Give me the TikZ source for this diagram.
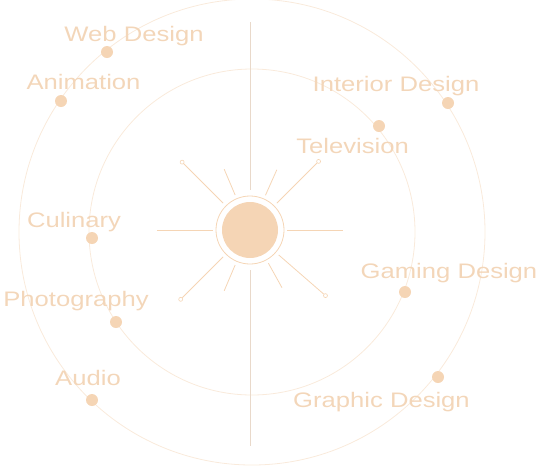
\documentclass[tikz,border=0pt]{standalone}
\usepackage{fontspec}
\setmainfont{Liberation Sans}[FakeStretch=1.22]
\definecolor{peach}{HTML}{F5D5B5}
\definecolor{ringc}{HTML}{F9EADB}
\definecolor{vline}{HTML}{E9D9CA}
\definecolor{txt}{HTML}{F3D6B9}
\begin{document}
\begin{tikzpicture}[x=1pt,y=-1pt,
  dot/.style={circle,fill=peach,inner sep=0pt,minimum size=12pt},
  lbl/.style={text=txt,font=\fontsize{21}{21}\selectfont,anchor=base,inner sep=0pt},
  ray/.style={draw=peach,line width=0.8pt},
  tip/.style={circle,draw=peach,fill=white,inner sep=0pt,minimum size=4pt,line width=0.6pt}]
\useasboundingbox (0,0) rectangle (538,467);
\coordinate (c) at (252,232);
\draw[ringc,line width=0.8pt] (c) circle[radius=233pt];
\draw[ringc,line width=0.8pt] (c) circle[radius=163pt];
\coordinate (s) at (250,230);
\coordinate (vt) at (250,22);
\coordinate (vb) at (250,446);
\path (s) ++(90:40pt) coordinate (v1) (s) ++(-90:40pt) coordinate (v2);
\draw[vline,line width=0.9pt] (vt) -- (v1) (v2) -- (vb);
% long diagonal rays with small end circles
\foreach \a/\r [count=\i] in {45/97,135/96,225/98,319/100}{
  \path (s) ++(\a:38pt) coordinate (d\i) (s) ++(\a:\r pt) node[tip] (dt\i) {};
  \draw[ray] (d\i) -- (dt\i);
}
% short rays
\foreach \a [count=\i] in {66,113,247,299}{
  \path (s) ++(\a:38pt) coordinate (sa\i) (s) ++(\a:66pt) coordinate (sb\i);
  \draw[ray] (sa\i) -- (sb\i);
}
% horizontal rays
\foreach \a [count=\i] in {0,180}{
  \path (s) ++(\a:37pt) coordinate (ha\i) (s) ++(\a:93pt) coordinate (hb\i);
  \draw[ray] (ha\i) -- (hb\i);
}
% sun
\node[circle,fill=peach,inner sep=0pt,minimum size=56pt] (sun) at (s) {};
\draw[peach,line width=0.8pt] (s) circle[radius=34pt];
% dots and labels
\node[dot] (webd) at (107,52) {};
\node[lbl] (web) at (134,41) {Web Design};
\node[dot] (anid) at (61,101) {};
\node[lbl] (ani) at (83.5,89) {Animation};
\node[dot] (intd) at (448,103) {};
\node[lbl] (int) at (396,91) {Interior Design};
\node[dot] (teld) at (379,126) {};
\node[lbl] (tel) at (352.5,153) {Television};
\node[dot] (culd) at (92,238) {};
\node[lbl] (cul) at (74,227) {Culinary};
\node[dot] (phod) at (116,322) {};
\node[lbl] (pho) at (76,306) {Photography};
\node[dot] (audd) at (92,400) {};
\node[lbl] (aud) at (88,385) {Audio};
\node[dot] (gamd) at (405,292) {};
\node[lbl] (gam) at (449,278) {Gaming Design};
\node[dot] (grad) at (438,377) {};
\node[lbl] (gra) at (381.5,407) {Graphic Design};
\end{tikzpicture}
\end{document}
